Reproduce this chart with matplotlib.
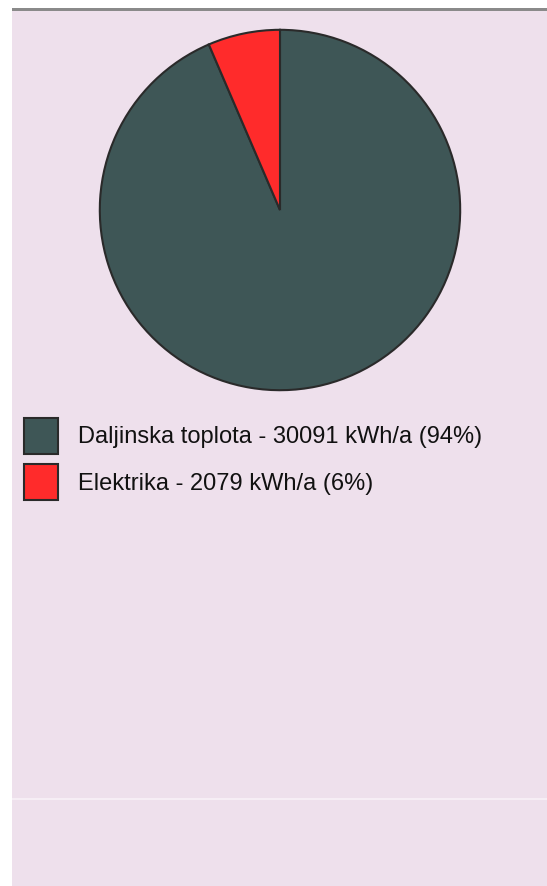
import matplotlib
matplotlib.use("Agg")
import matplotlib.pyplot as plt
from matplotlib.patches import Rectangle

# podatki
labels = ["Daljinska toplota", "Elektrika"]
kwh = [30091, 2079]
pct = [94, 6]
colors = ["#3e5656", "#ff2b2b"]

W, H = 547, 886
fig = plt.figure(figsize=(W / 100, H / 100), dpi=100)
fig.patch.set_facecolor("white")

# ozadje + siva crta zgoraj
fig.patches.append(Rectangle((12 / W, 0), 1 - 12 / W, 1 - 10 / H,
                             transform=fig.transFigure, facecolor="#eee0ec",
                             edgecolor="none", zorder=-2))
fig.patches.append(Rectangle((12 / W, 1 - 11 / H), 1 - 12 / W, 3 / H,
                             transform=fig.transFigure, facecolor="#8a8a8a",
                             edgecolor="none", zorder=-1))
fig.patches.append(Rectangle((12 / W, 1 - 800 / H), 1 - 12 / W, 2 / H,
                             transform=fig.transFigure, facecolor="#f6eef5",
                             edgecolor="none", zorder=-1))

ax = fig.add_axes([98 / W, 1 - 392 / H, 364 / W, 364 / H])
ax.set_zorder(2)
wedges, _ = ax.pie(kwh, colors=colors, startangle=90, counterclock=False,
                   wedgeprops={"edgecolor": "#2a2a2a", "linewidth": 1.5})
ax.set_aspect("equal")
ax.set_xlim(-1.01, 1.01)
ax.set_ylim(-1.01, 1.01)
ax.patch.set_visible(False)

leg_labels = [f"{l} - {v} kWh/a ({p}%)" for l, v, p in zip(labels, kwh, pct)]
leg = fig.legend(wedges, leg_labels, loc="upper left",
                 bbox_to_anchor=(24 / W, 1 - 418 / H), frameon=False,
                 prop={"family": "Liberation Sans", "size": 17},
                 handlelength=1.45, handleheight=1.95, labelspacing=0.45,
                 handletextpad=0.85, borderpad=0, borderaxespad=0)
leg.set_zorder(3)
for t in leg.get_texts():
    t.set_color("#111111")

fig.savefig("out.png", dpi=100)
